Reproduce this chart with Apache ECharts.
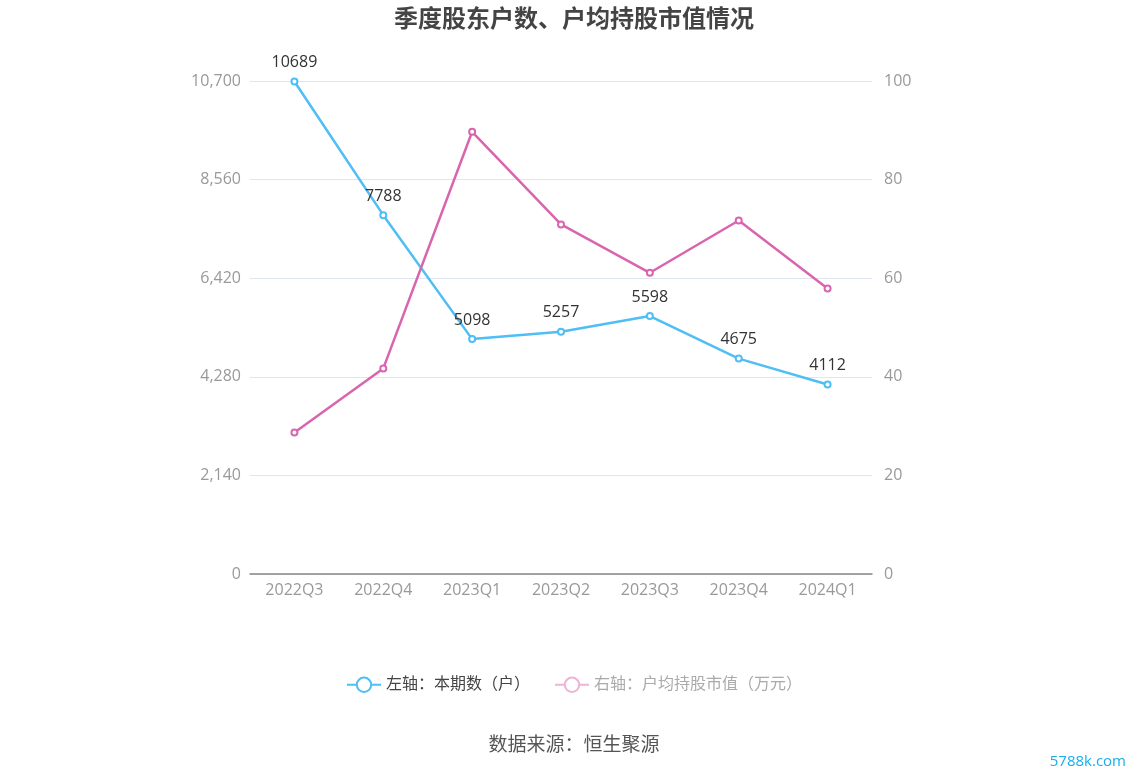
<!DOCTYPE html>
<html><head><meta charset="utf-8">
<script src="https://cdn.jsdelivr.net/npm/echarts@6/dist/echarts.min.js"></script>
<style>html,body{margin:0;padding:0;background:#fff}#c{width:1148px;height:776px}</style>
</head><body><div id="c"></div>
<script>
var categories = ['2022Q3','2022Q4','2023Q1','2023Q2','2023Q3','2023Q4','2024Q1'];
var holders = [10689, 7788, 5098, 5257, 5598, 4675, 4112];
var avgValue = [28.7, 41.7, 89.7, 70.9, 61.1, 71.7, 57.9];
var leftTicks = {min: 0, max: 10700, interval: 2140};
var rightTicks = {min: 0, max: 100, interval: 20};
var seriesNames = ['左轴：本期数（户）', '右轴：户均持股市值（万元）'];

var chart = echarts.init(document.getElementById('c'));
var font = '"Open Sans","Noto Sans CJK SC",sans-serif';
chart.setOption({
  animation: false,
  textStyle: {fontFamily: font},
  title: {text: '季度股东户数、户均持股市值情况', left: 'center', top: 3,
    textStyle: {fontSize: 24, fontWeight: 'bold', color: '#444', fontFamily: font}},
  grid: {left: 250, right: 276, top: 81, bottom: 202},
  legend: {bottom: 78, left: 'center', itemWidth: 34, itemHeight: 18, itemGap: 24,
    textStyle: {fontSize: 16, color: '#444', fontFamily: font},
    data: [
      {name: seriesNames[0]},
      {name: seriesNames[1], textStyle: {color: '#aaa'},
        itemStyle: {color: '#eeb3d7', borderColor: '#eeb3d7'}, lineStyle: {color: '#eeb3d7'}}
    ]},
  xAxis: {type: 'category', data: categories, boundaryGap: true,
    axisLine: {lineStyle: {color: '#888', width: 1.5}},
    axisTick: {alignWithLabel: true, length: 5, lineStyle: {color: '#888'}},
    axisLabel: {fontSize: 16, color: '#999', margin: 8}},
  yAxis: [
    {type: 'value', min: leftTicks.min, max: leftTicks.max, interval: leftTicks.interval,
      axisLine: {show: false}, axisTick: {show: false},
      axisLabel: {fontSize: 16, color: '#999', margin: 9},
      splitLine: {lineStyle: {color: '#e0e6f1'}}},
    {type: 'value', min: rightTicks.min, max: rightTicks.max, interval: rightTicks.interval,
      axisLine: {show: false}, axisTick: {show: false},
      axisLabel: {fontSize: 16, color: '#999', margin: 12},
      splitLine: {show: false}}
  ],
  series: [
    {name: seriesNames[0], type: 'line', yAxisIndex: 0, data: holders,
      symbol: 'emptyCircle', symbolSize: 6,
      lineStyle: {color: '#4fbef5', width: 2.5},
      itemStyle: {color: '#4fbef5', borderWidth: 2},
      label: {show: true, position: 'top', distance: 7, fontSize: 16, color: '#333'}},
    {name: seriesNames[1], type: 'line', yAxisIndex: 1, data: avgValue,
      symbol: 'emptyCircle', symbolSize: 6,
      lineStyle: {color: '#d865ae', width: 2.5},
      itemStyle: {color: '#d865ae', borderWidth: 2}}
  ],
  graphic: [
    {type: 'text', left: 'center', top: 736,
      style: {text: '数据来源：恒生聚源', fontSize: 19, fill: '#555', fontFamily: font}},
    {type: 'text', right: 22, top: 754,
      style: {text: '5788k.com', fontSize: 15, fill: '#19aee8', fontFamily: font}}
  ]
});
</script></body></html>
